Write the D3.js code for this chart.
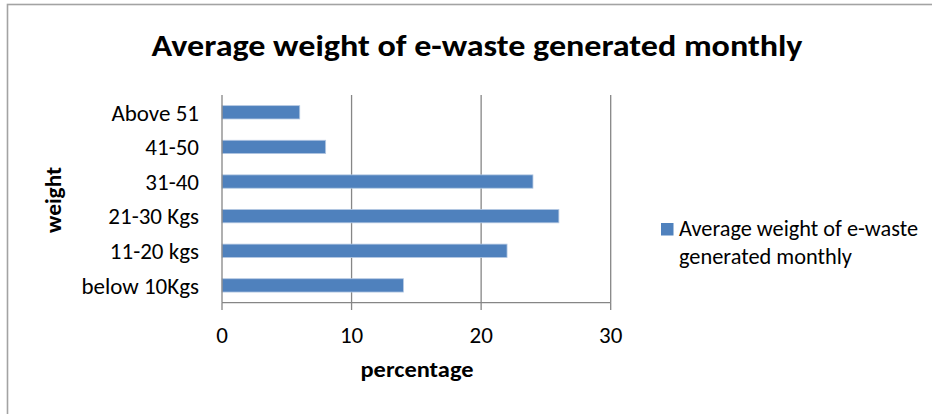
<!DOCTYPE html>
<html><head><meta charset="utf-8">
<script src="https://cdn.jsdelivr.net/npm/d3@7"></script>
<style>html,body{margin:0;padding:0;background:#fff;}svg{display:block;}text{font-family:Carlito,Lato,"Noto Sans",sans-serif;fill:#000;}</style>
</head><body><svg id="c" width="932" height="414"></svg>
<script>
const categories = ["Above 51","41-50","31-40","21-30 Kgs","11-20 kgs","below 10Kgs"];
const values = [6, 8, 24, 26, 22, 14];
const xTicks = [0, 10, 20, 30];
const titleText = "Average weight of e-waste generated monthly";
const xTitle = "percentage";
const yTitle = "weight";
const legendLines = ["Average weight of e-waste", "generated monthly"];

const svg = d3.select("#c");
const barColor = "#4F81BD", gridColor = "#868686";

function fit(sel, w){ sel.attr("textLength", w).attr("lengthAdjust","spacingAndGlyphs"); return sel; }

// outer frame
svg.append("rect").attr("x",7.5).attr("y",4.5).attr("width",960).attr("height",450)
  .attr("fill","none").attr("stroke","#a3a3a3").attr("stroke-width",1.6);

const x = d3.scaleLinear().domain([0,30]).range([222,610.7]);
const y = d3.scaleBand().domain(categories).range([95,302.7]).paddingInner(0.615).paddingOuter(0.3075);

// gridlines
svg.append("g").selectAll("line").data(xTicks.filter(d=>d>0)).join("line")
  .attr("x1",d=>x(d)).attr("x2",d=>x(d)).attr("y1",95).attr("y2",302.7)
  .attr("stroke",gridColor).attr("stroke-width",1.3);

// bars
svg.append("g").selectAll("rect").data(values).join("rect")
  .attr("x",x(0)).attr("y",(d,i)=>y(categories[i]))
  .attr("width",d=>x(d)-x(0)).attr("height",y.bandwidth())
  .attr("fill",barColor).attr("stroke","#b4c8e2").attr("stroke-width",0.8);

// axes lines
svg.append("line").attr("x1",x(0)).attr("x2",x(0)).attr("y1",95).attr("y2",302.7).attr("stroke",gridColor).attr("stroke-width",1.3);
svg.append("line").attr("x1",x(0)).attr("x2",x(30)).attr("y1",302.7).attr("y2",302.7).attr("stroke",gridColor).attr("stroke-width",1.3);
svg.append("g").selectAll("line").data(xTicks).join("line")
  .attr("x1",d=>x(d)).attr("x2",d=>x(d)).attr("y1",302.7).attr("y2",310)
  .attr("stroke",gridColor).attr("stroke-width",1.3);

// x tick labels
svg.append("g").selectAll("text").data(xTicks).join("text")
  .attr("x",d=>x(d)).attr("y",343).attr("text-anchor","middle")
  .style("font-size","23px").text(d=>d);

// y labels
svg.append("g").selectAll("text").data(categories).join("text")
  .attr("x",199).attr("y",d=>y(d)+y.bandwidth()/2).attr("dy","0.36em")
  .attr("text-anchor","end").style("font-size","23px").text(d=>d);

// title
fit(svg.append("text").attr("x",477).attr("y",56).attr("text-anchor","middle")
  .style("font-size","31px").style("font-weight","bold").text(titleText), 651);

// axis titles
fit(svg.append("text").attr("x",417).attr("y",377).attr("text-anchor","middle")
  .style("font-size","22px").style("font-weight","bold").text(xTitle), 113);
fit(svg.append("text").attr("transform","translate(61,200) rotate(-90)").attr("text-anchor","middle")
  .style("font-size","22px").style("font-weight","bold").text(yTitle), 66);

// legend
svg.append("rect").attr("x",661).attr("y",223).attr("width",12.5).attr("height",12.5).attr("fill",barColor);
fit(svg.append("text").attr("x",679).attr("y",236).style("font-size","22px").text(legendLines[0]), 239);
fit(svg.append("text").attr("x",679).attr("y",264).style("font-size","22px").text(legendLines[1]), 173);
</script></body></html>
